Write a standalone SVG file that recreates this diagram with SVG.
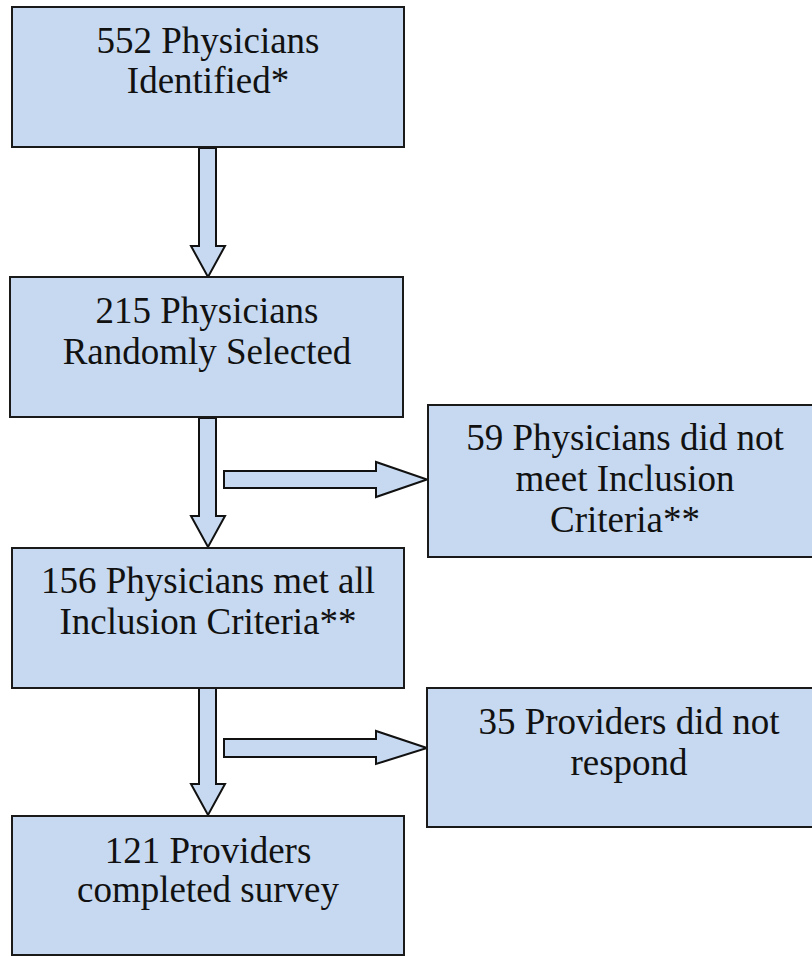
<svg xmlns="http://www.w3.org/2000/svg" width="812" height="957" viewBox="0 0 812 957">
<style>
.box{fill:#c6d9f0;stroke:#1a1a1a;stroke-width:2}
.arr{fill:#c6d9f0;stroke:#111;stroke-width:2;stroke-linejoin:miter}
.t{font-family:"Liberation Serif","Tinos","Times New Roman","DejaVu Serif","Noto Serif",serif;font-size:37px;fill:#111;text-anchor:middle}
</style>
<rect width="812" height="957" fill="#ffffff"/>
<g id="connectors">
<polygon class="arr" points="199,148 216,148 216,246 225,246 208,277 191,246 199,246"/>
<polygon class="arr" points="199,418 216,418 216,516 225,516 208,547 191,516 199,516"/>
<polygon class="arr" points="199,688 216,688 216,784 225,784 208,815 191,784 199,784"/>
<polygon class="arr" points="224,471 376,471 376,462 427,479.5 376,497 376,488 224,488"/>
<polygon class="arr" points="224,739 376,739 376,731 427,748 376,764 376,757 224,757"/>
</g>
<g id="n1">
<rect class="box" x="12" y="7" width="392" height="140"/>
<text class="t" x="208" y="53">552 Physicians</text>
<text class="t" x="208" y="93">Identified*</text>
</g>
<g id="n2">
<rect class="box" x="10" y="277" width="393" height="140"/>
<text class="t" x="207" y="323">215 Physicians</text>
<text class="t" x="207" y="364">Randomly Selected</text>
</g>
<g id="n3">
<rect class="box" x="428" y="405" width="396" height="152"/>
<text class="t" x="625" y="450">59 Physicians did not</text>
<text class="t" x="625" y="491">meet Inclusion</text>
<text class="t" x="625" y="532">Criteria**</text>
</g>
<g id="n4">
<rect class="box" x="12" y="548" width="392" height="140"/>
<text class="t" x="208" y="593">156 Physicians met all</text>
<text class="t" x="208" y="634">Inclusion Criteria**</text>
</g>
<g id="n5">
<rect class="box" x="427" y="688" width="404" height="139"/>
<text class="t" x="629" y="734">35 Providers did not</text>
<text class="t" x="629" y="775">respond</text>
</g>
<g id="n6">
<rect class="box" x="12" y="816" width="392" height="139"/>
<text class="t" x="208" y="863">121 Providers</text>
<text class="t" x="208" y="902">completed survey</text>
</g>
</svg>
